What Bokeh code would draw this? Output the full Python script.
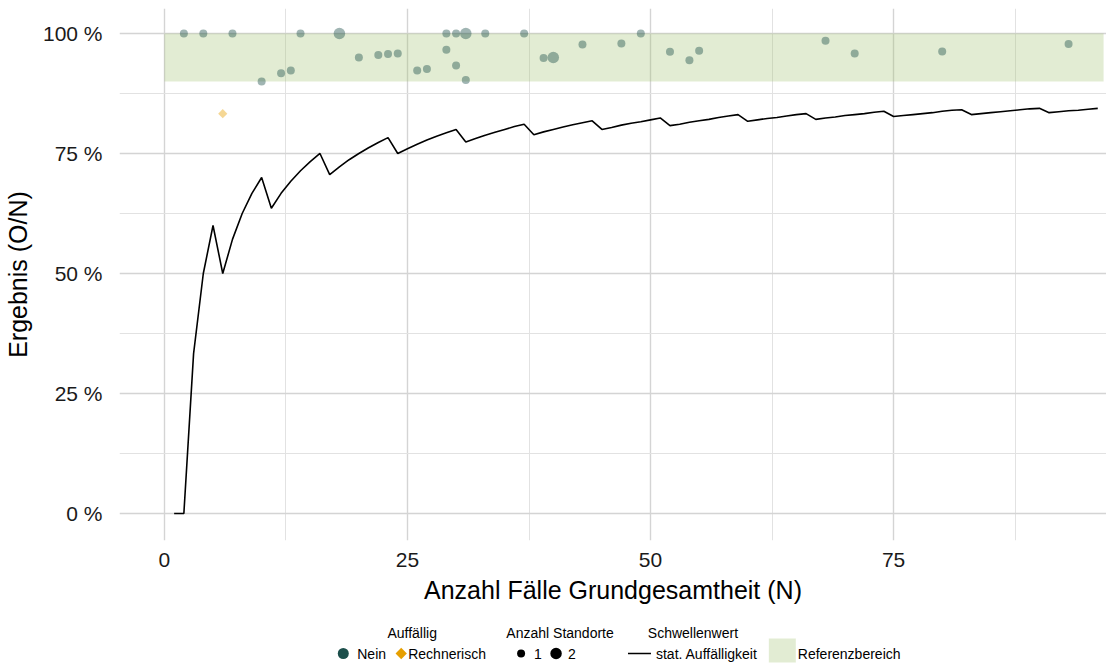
from bokeh.plotting import figure
from bokeh.models import Range1d, FixedTicker, CustomJSTickFormatter, ColumnDataSource
from bokeh.layouts import column
from bokeh.core.properties import value
from bokeh.embed import file_html
from bokeh.resources import INLINE

# ---------------- data ----------------
# threshold line "stat. Auffälligkeit" per N
N_LINE = list(range(1, 97))
THRESH = [0.0, 0.0, 0.333, 0.5, 0.6, 0.5, 0.571, 0.625, 0.667, 0.7,
          0.636, 0.667, 0.692, 0.714, 0.733, 0.75, 0.706, 0.722, 0.737, 0.75,
          0.762, 0.773, 0.783, 0.75, 0.76, 0.769, 0.778, 0.786, 0.793, 0.8,
          0.774, 0.781, 0.788, 0.794, 0.8, 0.806, 0.811, 0.789, 0.795, 0.8,
          0.805, 0.81, 0.814, 0.818, 0.8, 0.804, 0.809, 0.813, 0.816, 0.82,
          0.824, 0.808, 0.811, 0.815, 0.818, 0.821, 0.825, 0.828, 0.831, 0.817,
          0.82, 0.823, 0.825, 0.828, 0.831, 0.833, 0.821, 0.824, 0.826, 0.829,
          0.831, 0.833, 0.836, 0.838, 0.827, 0.829, 0.831, 0.833, 0.835, 0.838,
          0.84, 0.841, 0.831, 0.833, 0.835, 0.837, 0.839, 0.841, 0.843, 0.844,
          0.835, 0.837, 0.839, 0.84, 0.842, 0.844]

# sites, Auffällig = "Nein"
NEIN_N = [2, 4, 7, 10, 12, 13, 14, 18, 20, 22, 23, 24, 26, 27, 29, 29, 30, 30,
          31, 31, 33, 37, 39, 40, 43, 47, 49, 52, 54, 55, 68, 71, 80, 93]
NEIN_VAL = [1.0, 1.0, 1.0, 0.9, 0.917, 0.923, 1.0, 1.0, 0.95, 0.955, 0.957, 0.958,
            0.923, 0.926, 1.0, 0.966, 1.0, 0.933, 1.0, 0.903, 1.0, 1.0, 0.949, 0.95,
            0.977, 0.979, 1.0, 0.962, 0.944, 0.964, 0.985, 0.958, 0.9625, 0.978]
NEIN_SITES = [1, 1, 1, 1, 1, 1, 1, 2, 1, 1, 1, 1, 1, 1, 1, 1, 1, 1,
              2, 1, 1, 1, 1, 2, 1, 1, 1, 1, 1, 1, 1, 1, 1, 1]

# Auffällig = "Rechnerisch"
RECH_N = [6]
RECH_VAL = [0.833]
RECH_SITES = [1]

# Referenzbereich
REF_LOW = 0.9
REF_HIGH = 1.0
REF_X = [0, 96.6]

X_TICKS = [0, 25, 50, 75]
X_MINOR = [12.5, 37.5, 62.5, 87.5]
Y_TICKS = [0, 0.25, 0.5, 0.75, 1.0]
Y_MINOR = [0.125, 0.375, 0.625, 0.875]

LEG_AUFF = ["Nein", "Rechnerisch"]
LEG_SITES = ["1", "2"]

FONT = "Liberation Sans"
TEAL = "#1C4F4B"
ORANGE = "#E69F00"
SIZE_MAP = {1: 8, 2: 11.5}

W = 1106
FRAME_LEFT = 118

# ---------------- main plot ----------------
p = figure(width=W, height=614, output_backend="svg", toolbar_location=None,
           x_range=Range1d(-4.62, 96.9), y_range=Range1d(-0.05625, 1.052),
           min_border_left=FRAME_LEFT, min_border_right=0, min_border_top=8,
           min_border_bottom=74)
p.outline_line_color = None
p.background_fill_color = "white"

for g, t, m in ((p.xgrid, X_TICKS, X_MINOR), (p.ygrid, Y_TICKS, Y_MINOR)):
    g.ticker = FixedTicker(ticks=t, minor_ticks=m)
    g.grid_line_color = "#D4D4D4"
    g.grid_line_width = 1.4
    g.minor_grid_line_color = "#E2E2E2"
    g.minor_grid_line_width = 1.0

p.xaxis.ticker = FixedTicker(ticks=X_TICKS)
p.yaxis.ticker = FixedTicker(ticks=Y_TICKS)
p.yaxis.formatter = CustomJSTickFormatter(code="return (tick*100).toFixed(0) + ' %';")
for ax in (p.xaxis, p.yaxis):
    ax.axis_line_color = None
    ax.major_tick_line_color = None
    ax.minor_tick_line_color = None
    ax.major_label_text_font = FONT
    ax.major_label_text_font_size = "21px"
    ax.major_label_text_color = "#1A1A1A"
    ax.axis_label_text_font = FONT
    ax.axis_label_text_font_size = "25px"
    ax.axis_label_text_font_style = "normal"
    ax.axis_label_text_color = "black"
p.xaxis.axis_label = "Anzahl Fälle Grundgesamtheit (N)"
p.yaxis.axis_label = "Ergebnis (O/N)"
p.xaxis.major_label_standoff = 6
p.yaxis.major_label_standoff = 11
p.xaxis.axis_label_standoff = 6
p.yaxis.axis_label_standoff = 8

# reference band
p.quad(left=[REF_X[0]], right=[REF_X[1]], bottom=[REF_LOW], top=[REF_HIGH],
       fill_color="#9EC06C", fill_alpha=0.3, line_color=None)

# threshold line
p.line(N_LINE, THRESH, line_color="black", line_width=1.6)

# points
src_nein = ColumnDataSource(dict(x=NEIN_N, y=NEIN_VAL,
                                 s=[SIZE_MAP[k] for k in NEIN_SITES]))
p.scatter("x", "y", size="s", source=src_nein, marker="circle",
          fill_color=TEAL, fill_alpha=0.42, line_color=None)
src_rech = ColumnDataSource(dict(x=RECH_N, y=RECH_VAL,
                                 s=[SIZE_MAP[k] - 1.5 for k in RECH_SITES]))
p.scatter("x", "y", size="s", source=src_rech, marker="square", angle=0.785398,
          fill_color=ORANGE, fill_alpha=0.42, line_color=None)

# ---------------- legend strip (coordinates in page pixels) ----------------
# the column aligns frames, so this frame also starts at FRAME_LEFT
lg = figure(width=W, height=50, output_backend="svg", toolbar_location=None,
            x_range=Range1d(FRAME_LEFT, W), y_range=Range1d(664, 614),
            min_border=0, min_border_left=FRAME_LEFT, min_border_right=0,
            min_border_top=0, min_border_bottom=0)
lg.axis.visible = False
lg.grid.visible = False
lg.outline_line_color = None

TY = 632
IY = 653
fs = "14px"
lg.text(x=[411, 559, 692], y=[TY, TY, TY],
        text=["Auffällig", "Anzahl Standorte", "Schwellenwert"],
        text_font=value(FONT), text_font_size=fs, text_align="center",
        text_baseline="middle", text_color="black")
lg.scatter([342], [IY], size=11, marker="circle", fill_color=TEAL, line_color=None)
lg.scatter([400], [IY], size=8, marker="square", angle=0.785398,
           fill_color=ORANGE, line_color=None)
lg.scatter([520, 555], [IY, IY], size=[SIZE_MAP[1], SIZE_MAP[2]], marker="circle",
           fill_color="black", line_color=None)
lg.line([627, 650], [IY, IY], line_color="black", line_width=1.6)
lg.quad(left=[768], right=[795], bottom=[662], top=[638],
        fill_color="#9EC06C", fill_alpha=0.3, line_color=None)
lg.text(x=[356, 407, 533, 567, 655, 797], y=[IY] * 6,
        text=[LEG_AUFF[0], LEG_AUFF[1], LEG_SITES[0], LEG_SITES[1],
              "stat. Auffälligkeit", "Referenzbereich"],
        text_font=value(FONT), text_font_size=fs, text_align="left",
        text_baseline="middle", text_color="black")

layout = column(p, lg, spacing=0)
open("out.html", "w").write(file_html(layout, INLINE))
